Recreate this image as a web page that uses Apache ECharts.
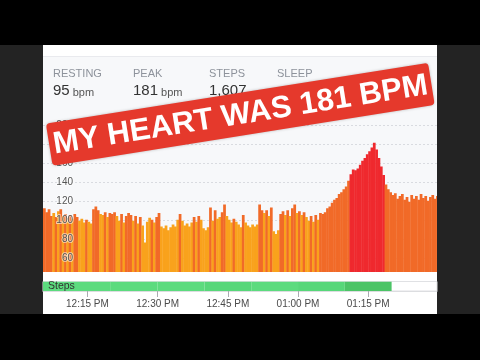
<!DOCTYPE html>
<html><head><meta charset="utf-8">
<script src="https://cdn.jsdelivr.net/npm/echarts@6/dist/echarts.min.js"></script>
<style>
html,body{margin:0;padding:0;background:#000;width:480px;height:360px;overflow:hidden}
#side{position:absolute;left:0;top:45px;width:480px;height:269px;background:#232323}
#panel{position:absolute;left:43px;top:45px;width:394px;height:269px;background:#f7f8fa}
#topstrip{position:absolute;left:43px;top:45px;width:394px;height:11px;background:#fff;border-bottom:1px solid #e9eaee}
#bottom{position:absolute;left:43px;top:272px;width:394px;height:42px;background:#fff}
#chart{position:absolute;left:0;top:0;width:480px;height:360px}
</style></head>
<body>
<div id="side"></div><div id="panel"></div><div id="topstrip"></div><div id="bottom"></div>
<div id="chart"></div>
<script>
// ---- data ----
const timeMin = 725.5;          // 12:05:30 PM (minutes after midnight)
const timeMax = 809.7;          // ~1:29:40 PM
const sampleStart = 725.5;
const sampleStep = 0.5;         // minutes per heart-rate sample
const heartRate = [
  112,108,111,104,107,103,109,111,104,106,
  102,105,101,106,103,99,101,97,100,98,
  96,111,114,110,106,105,108,103,107,106,
  108,104,99,106,97,104,107,105,99,104,
  96,103,94,76,98,102,100,97,103,107,
  93,91,94,89,92,95,93,100,106,99,
  94,96,93,97,103,98,104,100,91,89,
  92,113,99,110,101,103,108,116,104,100,
  97,101,98,95,92,105,97,94,92,95,
  93,95,116,110,107,110,104,113,88,85,
  89,106,109,105,110,104,112,116,107,109,
  105,108,103,99,104,98,105,100,107,106,
  108,112,114,118,121,123,127,129,132,135,
  141,148,153,152,154,158,162,165,169,172,
  176,181,174,165,156,147,137,132,129,126,
  128,122,125,127,121,124,119,126,122,125,
  121,127,123,125,120,124,126,122,125
];
const heartZone = [
  1,1,1,1,0,1,0,1,0,1,
  0,1,0,1,1,0,0,0,1,0,
  0,1,1,1,0,0,1,0,1,1,
  1,0,0,1,0,1,1,1,0,1,
  0,1,0,0,0,0,1,0,1,1,
  0,0,0,0,0,0,0,0,1,0,
  0,0,0,0,1,0,1,0,0,0,
  0,1,0,1,0,0,1,1,0,0,
  0,1,0,0,0,1,0,0,0,0,
  0,0,1,1,0,1,0,1,0,0,
  0,1,1,0,1,0,1,1,0,1,
  0,1,0,0,1,0,1,0,1,1,
  1,1,1,1,1,1,1,1,1,1,
  1,2,2,2,2,2,2,2,2,2,
  2,2,2,2,2,2,1,1,1,1,
  1,1,1,1,1,1,1,1,1,1,
  1,1,1,1,1,1,1,1,1
];
const stepBucketStart = [720,730,740,750,760,770,780,790];
const stepBucketLen = 10;
const stepCounts = [150,160,170,150,210,180,230,357];
const xTickTimes = [735,750,765,780,795];
const yTickValues = [60,80,100,120,140,160,180,200];
const yMin = 45, yMax = 220;
const stats = [
  {label:'RESTING', value:'95', unit:'bpm'},
  {label:'PEAK', value:'181', unit:'bpm'},
  {label:'STEPS', value:'1,607', unit:''},
  {label:'SLEEP', value:'', unit:''}
];
const bannerText = 'MY HEART WAS 181 BPM';

// ---- styles ----
const zoneColors = ['#f9a21c','#f16a28','#ef292e'];
function stepColor(c){ return c > 300 ? '#4cc466' : (c >= 200 ? '#57d779' : '#5cdb7e'); }
function fmtTime(v){
  let h = Math.floor(v/60), m = Math.round(v - h*60);
  const ap = h >= 12 ? 'PM' : 'AM'; h = h % 12; if (h === 0) h = 12;
  return String(h).padStart(2,'0') + ':' + String(m).padStart(2,'0') + ' ' + ap;
}
const FONT = 'Liberation Sans, Arial, Helvetica, sans-serif';

const hrData = heartRate.map((v,i) => [sampleStart + i*sampleStep, v, heartZone[i]]);
const stepData = stepBucketStart.map((s,i) => [s, s + stepBucketLen, stepCounts[i]]);

const statX = [53, 133, 209, 277];
const graphics = [];
stats.forEach((s,i) => {
  graphics.push({type:'text', z:50, x:statX[i], y:73.5, style:{text:s.label, fill:'#8d929b', font:'11px '+FONT, verticalAlign:'middle'}});
  if (s.value) {
    graphics.push({type:'text', z:50, x:statX[i], y:91, style:{text:s.value, fill:'#333', font:'15px '+FONT, verticalAlign:'middle'}});
  }
  if (s.unit) {
    const w = s.value.length * 8.35 + 3;
    graphics.push({type:'text', z:50, x:statX[i]+w, y:92.5, style:{text:s.unit, fill:'#555', font:'11px '+FONT, verticalAlign:'middle'}});
  }
});
graphics.push({type:'text', z:50, x:48, y:286.5, style:{text:'Steps', fill:'#333', font:'10.5px '+FONT, verticalAlign:'middle'}});
graphics.push({
  type:'group', x:240.3, y:114.3, rotation: 0.158, z:100,
  children:[
    {type:'rect', z:100, shape:{x:-193.5, y:-21.3, width:387, height:42.6, r:4}, style:{fill:'#e5392c', shadowBlur:3, shadowColor:'rgba(0,0,0,0.25)'}},
    {type:'text', z:101, x:0, y:1, style:{text:bannerText, fill:'#fff', font:'bold 31px '+FONT, align:'center', verticalAlign:'middle'}}
  ]
});

const chart = echarts.init(document.getElementById('chart'), null, {renderer:'canvas'});
chart.setOption({
  backgroundColor:'transparent',
  animation:false,
  grid:[
    {left:43, right:43, top:105.75, bottom:88},
    {left:43, right:43, top:281.5, height:9.5, show:true, backgroundColor:'#fff', borderColor:'#e0e1e4', borderWidth:1}
  ],
  xAxis:[
    {type:'value', gridIndex:0, min:timeMin, max:timeMax, show:false},
    {type:'value', gridIndex:1, min:timeMin, max:timeMax,
     axisLine:{show:true, lineStyle:{color:'#dcdde0'}},
     splitLine:{show:false},
     axisTick:{show:true, customValues:xTickTimes, length:6, lineStyle:{color:'#a9abb0'}},
     axisLabel:{show:true, customValues:xTickTimes, formatter:fmtTime, margin:8, color:'#4a4a4a', fontSize:10, fontFamily:FONT}}
  ],
  yAxis:[
    {type:'value', gridIndex:0, min:yMin, max:yMax,
     axisLine:{show:false}, axisLabel:{show:false},
     axisTick:{show:false, customValues:yTickValues},
     splitLine:{show:true, lineStyle:{color:'#d9dbe0', type:[2,2], width:1}}},
    {type:'value', gridIndex:0, min:yMin, max:yMax, position:'left', z:10,
     axisLine:{show:false}, splitLine:{show:false},
     axisTick:{show:false, customValues:yTickValues},
     axisLabel:{show:true, inside:true, customValues:yTickValues, margin:30, align:'right', color:'#555', fontSize:10, fontFamily:FONT,
                textBorderColor:'rgba(255,255,255,0.55)', textBorderWidth:2}},
    {type:'value', gridIndex:1, min:0, max:1, show:false}
  ],
  series:[
    {type:'custom', xAxisIndex:0, yAxisIndex:0, clip:true, data:hrData,
     renderItem:function(params, api){
       const t = api.value(0), v = api.value(1), z = api.value(2);
       const p0 = api.coord([t, v]);
       const p1 = api.coord([t + sampleStep, yMin]);
       return {type:'rect', shape:{x:p0[0], y:p0[1], width:p1[0]-p0[0]+0.4, height:p1[1]-p0[1]},
               style:{fill:zoneColors[z]}};
     }},
    {type:'custom', xAxisIndex:1, yAxisIndex:2, clip:true, data:stepData,
     renderItem:function(params, api){
       const s = api.value(0), e = api.value(1), c = api.value(2);
       const p0 = api.coord([s, 1]);
       const p1 = api.coord([e, 0]);
       return {type:'rect', shape:{x:p0[0], y:p0[1], width:p1[0]-p0[0], height:p1[1]-p0[1]},
               style:{fill:stepColor(c)}};
     }}
  ],
  graphic:{elements:graphics}
});
</script>
</body></html>
